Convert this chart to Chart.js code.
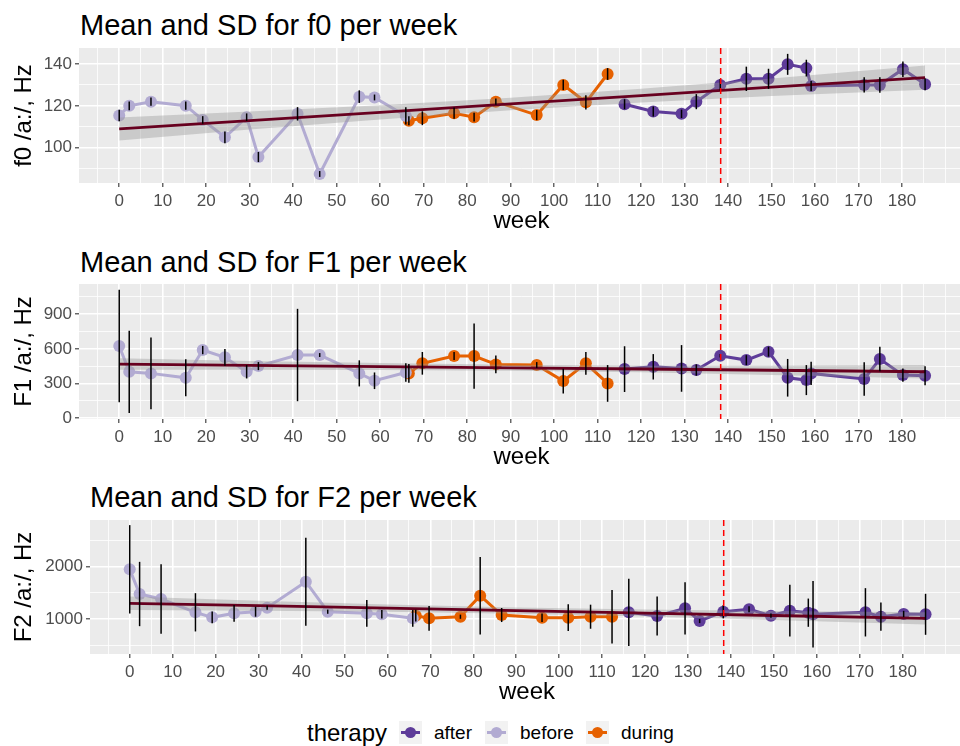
<!DOCTYPE html>
<html>
<head>
<meta charset="utf-8">
<script src="https://cdn.jsdelivr.net/npm/chart.js@4.4.1/dist/chart.umd.min.js"></script>
<style>
  html, body { margin: 0; padding: 0; background: #fff; }
  #page { position: relative; width: 960px; height: 746px; overflow: hidden; font-family: "Liberation Sans", Arial, sans-serif; }
  canvas { position: absolute; left: 0; }
  .title { position: absolute; font-size: 29px; line-height: 32px; color: #000; white-space: nowrap; }
  .lg-title { position: absolute; left: 307px; top: 719px; font-size: 24px; line-height: 28px; }
  .lg-key { position: absolute; top: 721px; width: 23px; height: 23px; background: #F2F2F2; }
  .lg-key .ln { position: absolute; left: 2px; top: 10px; width: 19px; height: 3px; }
  .lg-key .pt { position: absolute; left: 6px; top: 6px; width: 11px; height: 11px; border-radius: 50%; }
  .lg-lab { position: absolute; top: 721px; font-size: 19px; line-height: 24px; color: #000; }
</style>
</head>
<body>
<div id="page">
  <div class="title" style="left:80px; top:9px;">Mean and SD for f0 per week</div>
  <div class="title" style="left:80px; top:246px;">Mean and SD for F1 per week</div>
  <div class="title" style="left:90px; top:481px;">Mean and SD for F2 per week</div>

  <canvas id="chartF0" width="970" height="240" style="top:0px;"></canvas>
  <canvas id="chartF1" width="970" height="236" style="top:240px;"></canvas>
  <canvas id="chartF2" width="970" height="235" style="top:476px;"></canvas>

  <div class="lg-title">therapy</div>
  <div class="lg-key" style="left:399px;"><div class="ln" style="background:#5E3C99"></div><div class="pt" style="background:#5E3C99"></div></div>
  <div class="lg-lab" style="left:434px;">after</div>
  <div class="lg-key" style="left:485px;"><div class="ln" style="background:#B2ABD2"></div><div class="pt" style="background:#B2ABD2"></div></div>
  <div class="lg-lab" style="left:520px;">before</div>
  <div class="lg-key" style="left:586px;"><div class="ln" style="background:#E66101"></div><div class="pt" style="background:#E66101"></div></div>
  <div class="lg-lab" style="left:621px;">during</div>
</div>

<script>
// weeks of each recording session
const weeksBefore = [0, 2.3, 7.3, 15.3, 19.2, 24.3, 29.3, 32, 41, 46.1, 55.2, 58.7, 65.9];
const weeksDuring = [66.6, 69.7, 77, 81.6, 86.6, 96, 102.1, 107.3, 112.3];
const weeksAfter = [116.2, 122.8, 129.3, 132.7, 138.2, 144.2, 149.3, 153.7, 158, 159.1, 171.3, 174.9, 180.2, 185.3];

// f0
const f0MeanBefore = [115.4, 120, 122, 120.1, 113.3, 105, 114.6, 95.6, 116.2, 87.5, 124.4, 124, 115.2];
const f0SdBefore = [2.8, 2.1, 2.0, 2.0, 1.8, 2.8, 1.8, 2.4, 3.2, 1.4, 3.0, 1.4, 4.1];
const f0MeanDuring = [112.9, 114.1, 116.5, 114.6, 122, 115.6, 130, 121.7, 135.2];
const f0SdDuring = [2.2, 3.3, 2.7, 2.1, 1.5, 2.4, 2.4, 3.4, 2.8];
const f0MeanAfter = [120.8, 117.3, 116.2, 122, 130, 132.9, 132.9, 139.8, 138, 129.5, 130, 130, 137.5, 130.3];
const f0SdAfter = [2.4, 2.4, 2.0, 3.6, 2.8, 5.8, 4.8, 5.0, 4.0, 2.4, 3.6, 3.7, 3.7, 2.8];

// F1
const f1MeanBefore = [625, 402, 388, 350, 590, 527, 402, 451, 547, 547, 388, 324, 396];
const f1SdBefore = [487, 356, 311, 160, 36, 72, 58, 35, 400, 17, 113, 72, 80];
const f1MeanDuring = [388, 475, 538, 538, 466, 460, 321, 475, 301];
const f1SdDuring = [82, 98, 35, 282, 77, 26, 108, 98, 159];
const f1MeanAfter = [425, 445, 431, 417, 541, 503, 576, 350, 330, 388, 339, 512, 373, 367];
const f1SdAfter = [198, 110, 202, 49, 15, 43, 43, 163, 130, 101, 145, 106, 58, 82];

// F2
const f2MeanBefore = [1950, 1478, 1382, 1128, 1032, 1109, 1140, 1217, 1713, 1140, 1109, 1090, 1013];
const f2SdBefore = [845, 615, 666, 366, 112, 160, 96, 40, 841, 40, 255, 80, 160];
const f2MeanDuring = [1063, 1013, 1044, 1446, 1076, 1025, 1025, 1044, 1044];
const f2SdDuring = [112, 236, 40, 740, 134, 80, 255, 230, 510];
const f2MeanAfter = [1128, 1057, 1204, 962, 1140, 1185, 1063, 1159, 1121, 1090, 1128, 1044, 1096, 1090];
const f2SdAfter = [644, 373, 500, 40, 128, 57, 40, 494, 270, 637, 462, 270, 60, 392];

// linear fit with confidence band
const trendWeeks = [0, 30, 60, 90, 120, 150, 185.3];
const f0Fit = [109, 113, 116.9, 120.9, 124.9, 128.9, 133.5];
const f0Lower = [103.5, 108.7, 113.5, 117.9, 121.6, 124.7, 127.7];
const f0Upper = [114.5, 117.3, 120.3, 123.9, 128.2, 133.1, 139.3];
const f1Fit = [469, 458, 447, 436, 426, 415, 402];
const f1Lower = [419, 420, 417, 410, 397, 375, 344];
const f1Upper = [519, 496, 477, 462, 455, 455, 460];
const f2Fit = [1300, 1254, 1207, 1160, 1114, 1067, 1013];
const f2Lower = [1172, 1159, 1137, 1102, 1048, 979, 895];
const f2Upper = [1428, 1349, 1277, 1218, 1180, 1155, 1131];

const therapyEndWeek = 138.3;

// axis ticks
const weekTicks = [0, 10, 20, 30, 40, 50, 60, 70, 80, 90, 100, 110, 120, 130, 140, 150, 160, 170, 180];
const weekMinor = [-5, 5, 15, 25, 35, 45, 55, 65, 75, 85, 95, 105, 115, 125, 135, 145, 155, 165, 175, 185, 190];
const f0Ticks = [100, 120, 140];
const f0Minor = [90, 110, 130];
const f1Ticks = [0, 300, 600, 900];
const f1Minor = [150, 450, 750, 1050];
const f2Ticks = [1000, 2000];
const f2Minor = [500, 1500, 2500];

const colBefore = '#B2ABD2';
const colDuring = '#E66101';
const colAfter = '#5E3C99';

Chart.defaults.font.family = '"Liberation Sans", Arial, sans-serif';

const pts = (xs, ys) => xs.map((x, i) => ({ x: x, y: ys[i] }));

function makePanel(id, p) {
  const groups = [
    { weeks: weeksBefore, mean: p.before[0], sd: p.before[1] },
    { weeks: weeksDuring, mean: p.during[0], sd: p.during[1] },
    { weeks: weeksAfter, mean: p.after[0], sd: p.after[1] }
  ];

  const panelBg = {
    id: 'panelBg',
    beforeDraw(chart) {
      const a = chart.chartArea;
      chart.ctx.save();
      chart.ctx.fillStyle = '#EBEBEB';
      chart.ctx.fillRect(a.left, a.top, a.right - a.left, a.bottom - a.top);
      chart.ctx.restore();
    }
  };

  const overlays = {
    id: 'overlays',
    afterDatasetsDraw(chart) {
      const ctx = chart.ctx, x = chart.scales.x, y = chart.scales.y, a = chart.chartArea;
      ctx.save();
      ctx.strokeStyle = '#000';
      ctx.lineWidth = 1.5;
      groups.forEach(g => g.weeks.forEach((w, i) => {
        const px = x.getPixelForValue(w);
        ctx.beginPath();
        ctx.moveTo(px, y.getPixelForValue(g.mean[i] - g.sd[i]));
        ctx.lineTo(px, y.getPixelForValue(g.mean[i] + g.sd[i]));
        ctx.stroke();
      }));
      // end of therapy
      const vx = x.getPixelForValue(therapyEndWeek);
      ctx.strokeStyle = '#FF0000';
      ctx.lineWidth = 1.5;
      ctx.setLineDash([6, 4]);
      ctx.beginPath();
      ctx.moveTo(vx, a.top);
      ctx.lineTo(vx, a.bottom);
      ctx.stroke();
      ctx.restore();
    }
  };

  const groupSet = (label, weeks, mean, color) => ({
    label: label,
    data: pts(weeks, mean),
    showLine: true,
    borderColor: color,
    borderWidth: 3,
    backgroundColor: color,
    pointBackgroundColor: color,
    pointBorderWidth: 0,
    pointRadius: 6,
    order: 2
  });

  new Chart(document.getElementById(id), {
    type: 'scatter',
    data: {
      datasets: [
        { label: 'fit', data: pts(trendWeeks, p.fit), showLine: true, borderColor: '#67001F', borderWidth: 2.8, pointRadius: 0, order: 0 },
        { label: 'lower', data: pts(trendWeeks, p.lower), showLine: true, borderWidth: 0, borderColor: 'rgba(0,0,0,0)', pointRadius: 0, fill: false, order: 1 },
        { label: 'upper', data: pts(trendWeeks, p.upper), showLine: true, borderWidth: 0, borderColor: 'rgba(0,0,0,0)', pointRadius: 0, fill: '-1', backgroundColor: 'rgba(153,153,153,0.4)', order: 1 },
        groupSet('before', weeksBefore, p.before[0], colBefore),
        groupSet('during', weeksDuring, p.during[0], colDuring),
        groupSet('after', weeksAfter, p.after[0], colAfter)
      ]
    },
    options: {
      responsive: false,
      animation: false,
      layout: { padding: { top: p.padTop, right: 5, left: 0, bottom: 0 } },
      plugins: { legend: { display: false }, tooltip: { enabled: false } },
      scales: {
        x: {
          type: 'linear',
          min: -9.25,
          max: 194.25,
          afterBuildTicks: s => { s.ticks = weekTicks.concat(weekMinor).sort((a, b) => a - b).map(v => ({ value: v })); },
          afterFit: s => { s.height = 57; },
          ticks: {
            autoSkip: false, maxRotation: 0, minRotation: 0, padding: 4,
            color: '#4D4D4D', font: { size: 17 },
            callback: v => weekTicks.includes(v) ? String(v) : ''
          },
          grid: {
            color: '#FFFFFF',
            lineWidth: c => weekTicks.includes(c.tick.value) ? 1.6 : 0.8,
            tickColor: c => weekTicks.includes(c.tick.value) ? '#333333' : 'rgba(0,0,0,0)',
            tickWidth: 1.1,
            tickLength: 4
          },
          border: { display: false },
          title: { display: true, text: 'week', color: '#000', font: { size: 24 }, padding: { top: 0, bottom: 4.6 } }
        },
        y: {
          type: 'linear',
          min: p.yMin,
          max: p.yMax,
          afterBuildTicks: s => { s.ticks = p.yTicks.concat(p.yMinor).sort((a, b) => a - b).map(v => ({ value: v })); },
          afterFit: s => { s.width = p.yWidth; },
          ticks: {
            autoSkip: false, padding: 3,
            color: '#4D4D4D', font: { size: 17 },
            callback: v => p.yTicks.includes(v) ? String(v) : ''
          },
          grid: {
            color: '#FFFFFF',
            lineWidth: c => p.yTicks.includes(c.tick.value) ? 1.6 : 0.8,
            tickColor: c => p.yTicks.includes(c.tick.value) ? '#333333' : 'rgba(0,0,0,0)',
            tickWidth: 1.1,
            tickLength: 4
          },
          border: { display: false },
          title: { display: true, text: p.yTitle, color: '#000', font: { size: 24 }, padding: { top: 10, bottom: 0 } }
        }
      }
    },
    plugins: [panelBg, overlays]
  });
}

makePanel('chartF0', {
  before: [f0MeanBefore, f0SdBefore], during: [f0MeanDuring, f0SdDuring], after: [f0MeanAfter, f0SdAfter],
  fit: f0Fit, lower: f0Lower, upper: f0Upper,
  yMin: 83.2, yMax: 147.6, yTicks: f0Ticks, yMinor: f0Minor,
  yTitle: 'f0 /a:/, Hz', yWidth: 79, padTop: 48
});

makePanel('chartF1', {
  before: [f1MeanBefore, f1SdBefore], during: [f1MeanDuring, f1SdDuring], after: [f1MeanAfter, f1SdAfter],
  fit: f1Fit, lower: f1Lower, upper: f1Upper,
  yMin: -7, yMax: 1162, yTicks: f1Ticks, yMinor: f1Minor,
  yTitle: 'F1 /a:/, Hz', yWidth: 79, padTop: 44
});

makePanel('chartF2', {
  before: [f2MeanBefore, f2SdBefore], during: [f2MeanDuring, f2SdDuring], after: [f2MeanAfter, f2SdAfter],
  fit: f2Fit, lower: f2Lower, upper: f2Upper,
  yMin: 331, yMax: 2893, yTicks: f2Ticks, yMinor: f2Minor,
  yTitle: 'F2 /a:/, Hz', yWidth: 90, padTop: 44
});
</script>
</body>
</html>
